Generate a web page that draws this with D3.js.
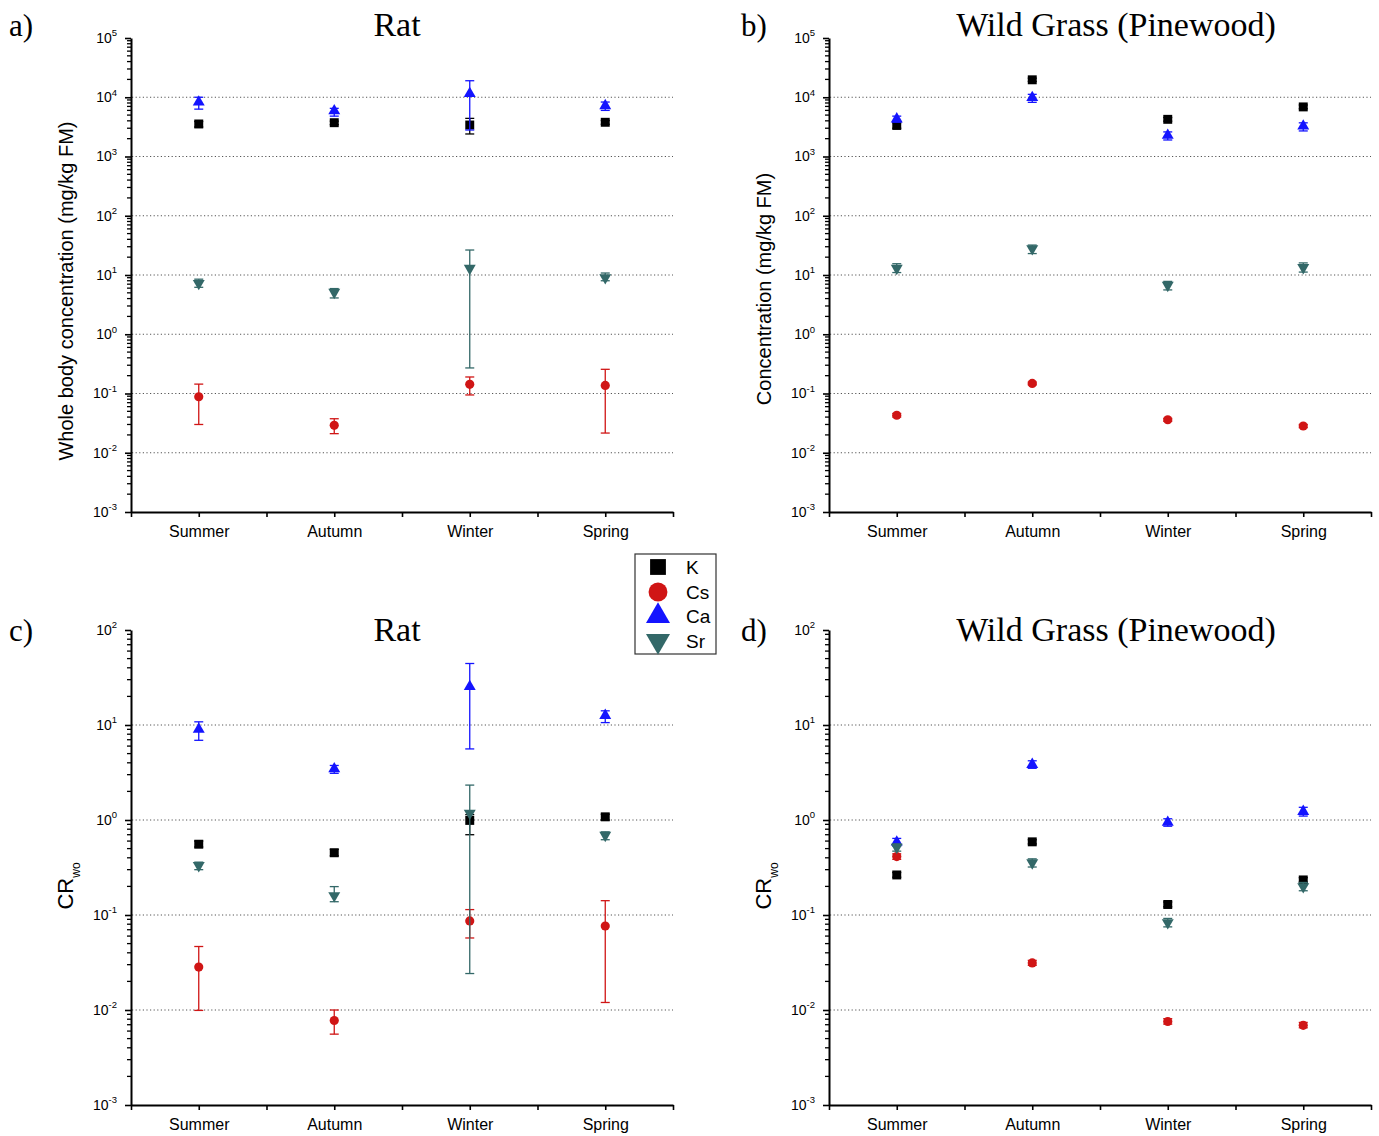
<!DOCTYPE html>
<html>
<head>
<meta charset="utf-8">
<script src="https://cdn.jsdelivr.net/npm/d3@7"></script>
<style>
  body { margin: 0; background: #fff; }
  svg { display: block; }
</style>
</head>
<body>
<div id="chart"></div>
<script>
// categories and series
const seasons = ['Summer', 'Autumn', 'Winter', 'Spring']
const elements = ['K', 'Cs', 'Ca', 'Sr']

// a) rat, whole body concentration (mg/kg FM)
const ratConcK = [3540, 3720, 3400, 3780]
const ratConcKErr = [[3150, 3900], [3450, 3950], [2400, 4400], [3500, 4050]]
const ratConcCs = [0.088, 0.029, 0.143, 0.137]
const ratConcCsErr = [[0.030, 0.144], [0.021, 0.0375], [0.0945, 0.19], [0.0215, 0.256]]
const ratConcCa = [8300, 5900, 11500, 7200]
const ratConcCaErr = [[6300, 10000], [4800, 6500], [2800, 19000], [6000, 8300]]
const ratConcSr = [7.2, 5.1, 13, 9.0]
const ratConcSrErr = [[6.2, 8.5], [4.1, 5.9], [0.27, 26.4], [8.0, 10.8]]

// b) wild grass (pinewood), concentration (mg/kg FM)
const grassConcK = [3340, 19700, 4240, 6870]
const grassConcKErr = [[3000, 3700], [18500, 21000], [3950, 4550], [6400, 7400]]
const grassConcCs = [0.043, 0.148, 0.036, 0.0283]
const grassConcCsErr = [[0.040, 0.046], [0.140, 0.156], [0.034, 0.038], [0.0265, 0.030]]
const grassConcCa = [4290, 9860, 2270, 3250]
const grassConcCaErr = [[3800, 4800], [8200, 11200], [1900, 2600], [2700, 3700]]
const grassConcSr = [13, 27.9, 6.7, 13.4]
const grassConcSrErr = [[11, 15.5], [23, 32], [5.6, 7.8], [11.2, 16]]

// c) rat, CR_wo
const ratCrK = [0.556, 0.452, 0.99, 1.08]
const ratCrKErr = [[0.52, 0.60], [0.42, 0.49], [0.70, 1.14], [1.0, 1.15]]
const ratCrCs = [0.0283, 0.00776, 0.0867, 0.0766]
const ratCrCsErr = [[0.0099, 0.0466], [0.00557, 0.0100], [0.0573, 0.114], [0.0120, 0.1415]]
const ratCrCa = [9.0, 3.45, 25.4, 12.6]
const ratCrCaErr = [[6.9, 10.8], [3.1, 3.75], [5.6, 44.4], [10.6, 14.1]]
const ratCrSr = [0.332, 0.160, 1.18, 0.69]
const ratCrSrErr = [[0.30, 0.36], [0.138, 0.199], [0.0242, 2.33], [0.62, 0.75]]

// d) wild grass (pinewood), CR_wo
const grassCrK = [0.264, 0.589, 0.129, 0.234]
const grassCrKErr = [[0.25, 0.28], [0.56, 0.62], [0.122, 0.137], [0.222, 0.247]]
const grassCrCs = [0.412, 0.0313, 0.00757, 0.0069]
const grassCrCsErr = [[0.385, 0.44], [0.0295, 0.0333], [0.0071, 0.0081], [0.0065, 0.0074]]
const grassCrCa = [0.585, 3.84, 0.945, 1.23]
const grassCrCaErr = [[0.53, 0.64], [3.5, 4.2], [0.86, 1.03], [1.1, 1.36]]
const grassCrSr = [0.516, 0.355, 0.0832, 0.199]
const grassCrSrErr = [[0.47, 0.56], [0.32, 0.39], [0.075, 0.092], [0.18, 0.22]]

const colors = { K: '#000000', Cs: '#d01515', Ca: '#1414ff', Sr: '#336868' }
const sansFont = 'Liberation Sans, Arial, sans-serif'
const serifFont = 'Liberation Serif, Times New Roman, serif'

const svg = d3.select('#chart').append('svg').attr('width', 1379).attr('height', 1136)

const panels = [
  { label: 'a)', labelX: 9, title: 'Rat', titleX: 397, titleY: 36, yTitle: 'Whole body concentration (mg/kg FM)', yTitleMid: 291, cr: false,
    left: 131, top: 38, bottom: 512, domain: [1e-3, 1e5],
    series: [[ratConcK, ratConcKErr], [ratConcCs, ratConcCsErr], [ratConcCa, ratConcCaErr], [ratConcSr, ratConcSrErr]] },
  { label: 'b)', labelX: 741, title: 'Wild Grass (Pinewood)', titleX: 1116, titleY: 36, yTitle: 'Concentration (mg/kg FM)', yTitleMid: 289, cr: false,
    left: 829, top: 38, bottom: 512, domain: [1e-3, 1e5],
    series: [[grassConcK, grassConcKErr], [grassConcCs, grassConcCsErr], [grassConcCa, grassConcCaErr], [grassConcSr, grassConcSrErr]] },
  { label: 'c)', labelX: 9, title: 'Rat', titleX: 397, titleY: 641, yTitle: 'CR', yTitleMid: 886, cr: true,
    left: 131, top: 630, bottom: 1105, domain: [1e-3, 1e2],
    series: [[ratCrK, ratCrKErr], [ratCrCs, ratCrCsErr], [ratCrCa, ratCrCaErr], [ratCrSr, ratCrSrErr]] },
  { label: 'd)', labelX: 741, title: 'Wild Grass (Pinewood)', titleX: 1116, titleY: 641, yTitle: 'CR', yTitleMid: 886, cr: true,
    left: 829, top: 630, bottom: 1105, domain: [1e-3, 1e2],
    series: [[grassCrK, grassCrKErr], [grassCrCs, grassCrCsErr], [grassCrCa, grassCrCaErr], [grassCrSr, grassCrSrErr]] }
]

const plotWidth = 542

function symbolFor(el, big) {
  if (el === 'K') return d3.symbol().type(d3.symbolSquare).size(big ? 250 : 80)()
  if (el === 'Cs') return d3.symbol().type(d3.symbolCircle).size(big ? 280 : 66)()
  return d3.symbol().type(d3.symbolTriangle).size(big ? 250 : 62)()
}

panels.forEach(p => {
  const x = d3.scaleLinear().domain([0.5, 4.5]).range([p.left, p.left + plotWidth])
  const y = d3.scaleLog().domain(p.domain).range([p.bottom, p.top])
  const g = svg.append('g')

  const lo = Math.log10(p.domain[0]), hi = Math.log10(p.domain[1])
  const majors = d3.range(lo, hi + 1).map(e => Math.pow(10, e))
  const minors = []
  d3.range(lo, hi).forEach(e => { for (let k = 2; k <= 9; k++) minors.push(k * Math.pow(10, e)) })

  // dotted grid at inner decades
  g.selectAll('.grid').data(majors.slice(1, -1)).enter().append('line')
    .attr('x1', p.left + 1).attr('x2', p.left + plotWidth)
    .attr('y1', d => y(d)).attr('y2', d => y(d))
    .attr('stroke', '#555').attr('stroke-width', 1).attr('stroke-dasharray', '1.2,2.4')

  // minor log ticks on the y axis
  g.selectAll('.minor').data(minors).enter().append('line')
    .attr('x1', p.left - 4).attr('x2', p.left)
    .attr('y1', d => y(d)).attr('y2', d => y(d))
    .attr('stroke', '#000').attr('stroke-width', 1.3)

  const yAxis = g.append('g').attr('transform', `translate(${p.left},0)`)
    .call(d3.axisLeft(y).tickValues(majors).tickSize(6).tickSizeOuter(0).tickPadding(8).tickFormat(() => ''))
  yAxis.select('.domain').attr('stroke-width', 2)
  yAxis.selectAll('.tick line').attr('stroke-width', 1.6)
  yAxis.selectAll('.tick text').each(function (d) {
    const t = d3.select(this)
      .attr('font-family', sansFont).attr('font-size', 14).attr('fill', '#000')
    t.text('10')
    t.append('tspan').attr('font-size', 9.5).attr('dy', '-0.7em').text(Math.round(Math.log10(d)))
  })

  // x axis
  const xAxis = g.append('g').attr('transform', `translate(0,${p.bottom})`)
    .call(d3.axisBottom(x).tickValues(d3.range(0.5, 4.51, 0.5)).tickSize(5).tickSizeOuter(0).tickPadding(9)
      .tickFormat(d => Number.isInteger(d) ? seasons[d - 1] : ''))
  xAxis.select('.domain').attr('stroke-width', 2)
  xAxis.selectAll('.tick line').attr('stroke-width', 1.6)
  xAxis.selectAll('text').attr('font-family', sansFont).attr('font-size', 16).attr('fill', '#000')

  // panel label and title
  svg.append('text').attr('x', p.labelX).attr('y', p.titleY).attr('font-family', serifFont)
    .attr('font-size', 31).text(p.label)
  svg.append('text').attr('x', p.titleX).attr('y', p.titleY).attr('text-anchor', 'middle')
    .attr('font-family', serifFont).attr('font-size', 34).text(p.title)

  // y axis title
  const yt = svg.append('text').attr('transform', `translate(${p.left - 58},${p.yTitleMid}) rotate(-90)`)
    .attr('text-anchor', 'middle').attr('font-family', sansFont)
    .attr('font-size', p.cr ? 22 : 20).text(p.yTitle)
  if (p.cr) yt.append('tspan').attr('font-size', 12).attr('dy', '0.55em').text('wo')

  // error bars and markers
  p.series.forEach(([vals, errs], i) => {
    const el = elements[i]
    const col = colors[el]
    const sg = g.append('g')
    vals.forEach((v, j) => {
      const cx = x(j + 1)
      const [eLo, eHi] = errs[j]
      sg.append('line').attr('x1', cx).attr('x2', cx).attr('y1', y(eLo)).attr('y2', y(eHi))
        .attr('stroke', col).attr('stroke-width', 1.3)
      ;[eLo, eHi].forEach(e => {
        sg.append('line').attr('x1', cx - 4.5).attr('x2', cx + 4.5).attr('y1', y(e)).attr('y2', y(e))
          .attr('stroke', col).attr('stroke-width', 1.3)
      })
      sg.append('path').attr('d', symbolFor(el, false))
        .attr('transform', `translate(${cx},${y(v)})${el === 'Sr' ? ' rotate(180)' : ''}`)
        .attr('fill', col)
    })
  })
})

// legend
const legend = svg.append('g')
legend.append('rect').attr('x', 635).attr('y', 554).attr('width', 81).attr('height', 100)
  .attr('fill', '#fff').attr('stroke', '#333').attr('stroke-width', 1.2)
const legendY = [567, 592, 616, 641]
elements.forEach((el, i) => {
  legend.append('path').attr('d', symbolFor(el, true))
    .attr('transform', `translate(658,${legendY[i]})${el === 'Sr' ? ' rotate(180)' : ''}`)
    .attr('fill', colors[el])
  legend.append('text').attr('x', 686).attr('y', legendY[i]).attr('dy', '0.35em')
    .attr('font-family', sansFont).attr('font-size', 19).text(el)
})
</script>
</body>
</html>
